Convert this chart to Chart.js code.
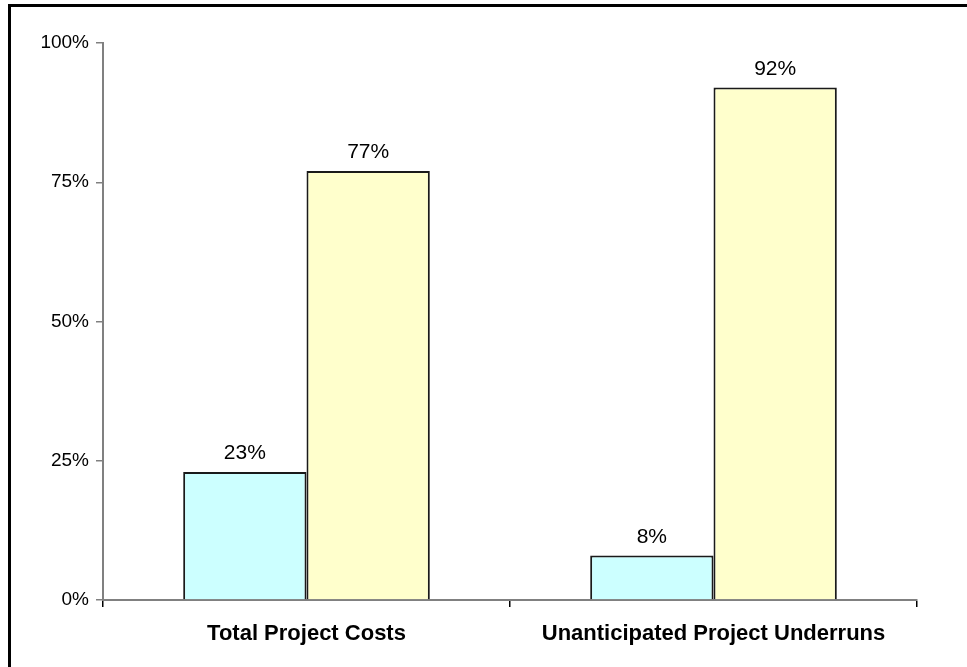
<!DOCTYPE html>
<html>
<head>
<meta charset="utf-8">
<script src="https://cdn.jsdelivr.net/npm/chart.js@4/dist/chart.umd.min.js"></script>
<style>
    html, body { margin: 0; padding: 0; background: #fff; }
    #wrap { position: relative; width: 967px; height: 667px; overflow: hidden; }
    #frame {
        position: absolute; left: 8px; top: 4px; right: -10px; bottom: -10px;
        border-left: 3px solid #000; border-top: 3px solid #000;
        pointer-events: none;
    }
</style>
</head>
<body>
<div id="wrap">
    <canvas id="share-chart" width="967" height="667"></canvas>
    <div id="frame"></div>
</div>
<script>
const categories = ['Total Project Costs', 'Unanticipated Project Underruns'];
const seriesOne = [23, 8];
const seriesTwo = [77, 92];
const yTicks = [0, 25, 50, 75, 100];

const FONT = '"Liberation Sans", Arial, sans-serif';

// Writes the percentage above each bar
const barValueLabels = {
    id: 'barValueLabels',
    afterDatasetsDraw(chart) {
        const ctx = chart.ctx;
        ctx.save();
        ctx.font = '21px ' + FONT;
        ctx.fillStyle = '#000';
        ctx.textAlign = 'center';
        ctx.textBaseline = 'bottom';
        chart.data.datasets.forEach((ds, i) => {
            chart.getDatasetMeta(i).data.forEach((bar, j) => {
                ctx.fillText(ds.data[j] + '%', bar.x, bar.y - 8);
            });
        });
        ctx.restore();
    }
};

new Chart(document.getElementById('share-chart'), {
    type: 'bar',
    data: {
        labels: categories,
        datasets: [{
            label: 'Series 1',
            data: seriesOne,
            backgroundColor: '#CCFFFF',
            borderColor: '#1a1a1a',
            borderWidth: 2,
            categoryPercentage: 0.606,
            barPercentage: 1.0
        }, {
            label: 'Series 2',
            data: seriesTwo,
            backgroundColor: '#FFFFCC',
            borderColor: '#1a1a1a',
            borderWidth: 2,
            categoryPercentage: 0.606,
            barPercentage: 1.0
        }]
    },
    options: {
        responsive: false,
        animation: false,
        layout: { padding: { top: 43, right: 50, left: 0, bottom: 0 } },
        plugins: {
            legend: { display: false },
            tooltip: { enabled: false }
        },
        scales: {
            x: {
                offset: true,
                grid: { offset: true, drawOnChartArea: false, drawTicks: true, tickLength: 7, color: '#000', lineWidth: 1.5 },
                border: { color: '#808080', width: 2 },
                ticks: { color: '#000', font: { family: FONT, size: 22, weight: 'bold' }, padding: 14 },
                afterFit(scale) { scale.height = 67; }
            },
            y: {
                min: 0,
                max: 100,
                afterBuildTicks(scale) { scale.ticks = yTicks.map(v => ({ value: v })); },
                grid: { drawOnChartArea: false, drawTicks: true, tickLength: 7, color: '#808080', lineWidth: 1.5 },
                border: { color: '#808080', width: 2 },
                ticks: { color: '#000', font: { family: FONT, size: 19 }, padding: 7, callback: v => v + '%' },
                afterFit(scale) { scale.width = 103; }
            }
        }
    },
    plugins: [barValueLabels]
});
</script>
</body>
</html>
